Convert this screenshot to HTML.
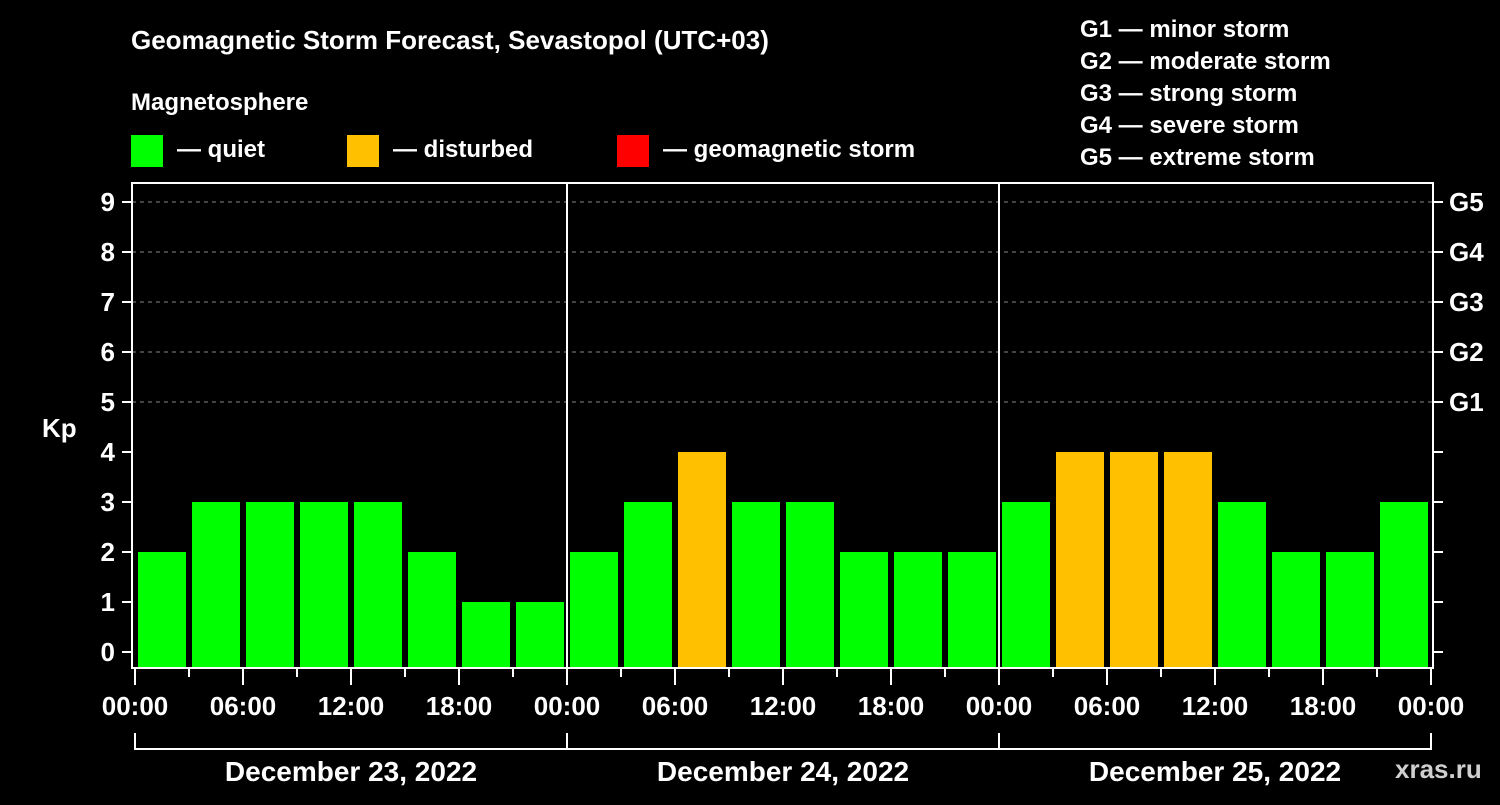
<!DOCTYPE html>
<html><head><meta charset="utf-8"><style>
body{margin:0;background:#000;width:1500px;height:800px;overflow:hidden}
svg text{font-family:"Liberation Sans",sans-serif;font-weight:bold;fill:#fff}
</style></head><body>
<svg id="c" width="1500" height="800">
<text x="131" y="49" font-size="26">Geomagnetic Storm Forecast, Sevastopol (UTC+03)</text>
<text x="131" y="110" font-size="24">Magnetosphere</text>
<g><rect x="131" y="135" width="32" height="32" fill="#00ff00"/><text x="177" y="157" font-size="24">— quiet</text></g>
<g><rect x="347" y="135" width="32" height="32" fill="#ffc000"/><text x="393" y="157" font-size="24">— disturbed</text></g>
<g><rect x="617" y="135" width="32" height="32" fill="#ff0000"/><text x="663" y="157" font-size="24">— geomagnetic storm</text></g>
<g font-size="24">
<text x="1080" y="37">G1 — minor storm</text><text x="1080" y="69">G2 — moderate storm</text><text x="1080" y="101">G3 — strong storm</text><text x="1080" y="133">G4 — severe storm</text><text x="1080" y="165">G5 — extreme storm</text></g>
<text x="42" y="437" font-size="26">Kp</text>
<text x="1395" y="778" font-size="26" fill="#ccc" style="fill:#cfcfcf">xras.ru</text>
<g id="plot"></g>
</svg>
<script>
const kpValues=[2,3,3,3,3,2,1,1, 2,3,4,3,3,2,2,2, 3,4,4,4,3,2,2,3];
const dayLabels=["December 23, 2022","December 24, 2022","December 25, 2022"];
const hourLabels=["00:00","06:00","12:00","18:00"];
const gLabels=["G1","G2","G3","G4","G5"];
const NS="http://www.w3.org/2000/svg";
const g=document.getElementById('plot');
const X0=135,SLOT=54,Y0=652,UNIT=50,L=132,R=1433,T=183,B=668;
const xs=i=>X0+i*SLOT, ys=v=>Y0-v*UNIT;
function mk(t,a,p){const e=document.createElementNS(NS,t);for(const k in a)e.setAttribute(k,a[k]);(p||g).appendChild(e);return e;}
for(let v=5;v<=9;v++){const e=mk('line',{x1:L,x2:R,y1:ys(v),y2:ys(v),stroke:'#888','stroke-dasharray':'4 4','stroke-width':1});

}
kpValues.forEach((v,i)=>{const c=v>=5?'#ff0000':v>=4?'#ffc000':'#00ff00';
const b=mk('rect',{x:xs(i)+3,y:ys(v),width:48,height:B-1-ys(v),fill:c});

});
const fr=mk('rect',{x:L,y:T,width:R-L,height:B-T,fill:'none',stroke:'#fff','stroke-width':2});


for(let d=1;d<dayLabels.length;d++){const e=mk('line',{x1:xs(d*8),x2:xs(d*8),y1:T,y2:B,stroke:'#fff','stroke-width':2});

}
for(let v=0;v<=9;v++){mk('line',{x1:122,x2:L,y1:ys(v),y2:ys(v),stroke:'#fff','stroke-width':2});mk('line',{x1:R,x2:1443,y1:ys(v),y2:ys(v),stroke:'#fff','stroke-width':2});
const t=mk('text',{x:115,y:ys(v)+9,'font-size':26,'text-anchor':'end'});t.textContent=v;

}
gLabels.forEach((s,i)=>{const t=mk('text',{x:1449,y:ys(i+5)+9,'font-size':26});t.textContent=s;

});
for(let i=0;i<=kpValues.length;i++){const maj=i%2==0;mk('line',{x1:xs(i),x2:xs(i),y1:B,y2:maj?685:677,stroke:'#fff','stroke-width':2});
if(maj){const t=mk('text',{x:xs(i),y:715,'font-size':26,'text-anchor':'middle'});t.textContent=hourLabels[(i/2)%4];

}}
dayLabels.forEach((s,d)=>{const a=xs(d*8),b=xs(d*8+8);
mk('path',{d:`M${a},733V749H${b}`+(d==2?`V733`:''),stroke:'#fff','stroke-width':2,fill:'none'});
const t=mk('text',{x:(a+b)/2,y:781,'font-size':28,'text-anchor':'middle'});t.textContent=s;

});
</script>
</body></html>
